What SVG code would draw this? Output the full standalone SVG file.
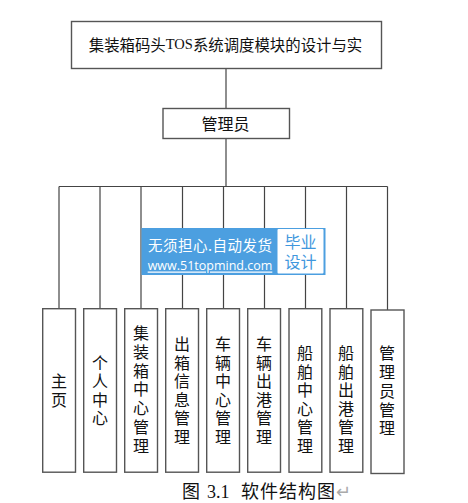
<svg xmlns="http://www.w3.org/2000/svg" width="468" height="503" viewBox="0 0 468 503">
<style>
.box{fill:#fff;stroke:#555;stroke-width:1.4}
.line{fill:none;stroke:#444;stroke-width:1.2}
.t{font-family:"Noto Sans CJK SC","Liberation Sans",sans-serif;font-size:16px;fill:#111;text-anchor:middle;dominant-baseline:central}
.wm{font-family:"Noto Sans CJK SC",sans-serif;text-anchor:middle;dominant-baseline:central}
.s{font-family:"Liberation Serif",serif}
</style>
<rect width="468" height="503" fill="#fff"/>
<g id="connectors">
<path class="line" d="M226 68V108M226 138V186.500M59 186.500H387.500M59 186.500V309M100 186.500V309M141 186.500V309M182.500 186.500V309M223.500 186.500V309M264.500 186.500V309M305.500 186.500V309M346.500 186.500V309M387.500 186.500V310"/>
</g>
<g id="root"><rect class="box" x="71.500" y="21.500" width="310" height="47"/><text class="t" x="225.500" y="44" style="font-size:15.400px">集装箱码头<tspan class="s" style="font-size:14.500px">TOS</tspan>系统调度模块的设计与实</text></g>
<g id="admin"><rect class="box" x="163" y="108.500" width="126.500" height="30"/><text class="t" x="225.500" y="122.500">管理员</text></g>
<g id="n1"><rect class="box" x="42.700" y="308.700" width="32.800" height="163.500"/><text class="t" x="59 59" y="380 399">主页</text></g>
<g id="n2"><rect class="box" x="83.700" y="308.700" width="32.800" height="163.500"/><text class="t" x="100 100 100 100" y="361.500 380 398.500 417">个人中心</text></g>
<g id="n3"><rect class="box" x="124.700" y="308.700" width="32.800" height="163.500"/><text class="t" x="141 141 141 141 141 141 141" y="332 350.500 369.500 388 407 426 445">集装箱中心管理</text></g>
<g id="n4"><rect class="box" x="165.700" y="308.700" width="32.800" height="163.500"/><text class="t" x="182 182 182 182 182 182" y="343 361.500 380 399 417 435.500">出箱信息管理</text></g>
<g id="n5"><rect class="box" x="206.700" y="308.700" width="32.800" height="163.500"/><text class="t" x="223 223 223 223 223 223" y="343 361.500 380 399 417 435.500">车辆中心管理</text></g>
<g id="n6"><rect class="box" x="247.700" y="308.700" width="32.800" height="163.500"/><text class="t" x="264 264 264 264 264 264" y="343 361.500 380 399 417 435.500">车辆出港管理</text></g>
<g id="n7"><rect class="box" x="289" y="308.700" width="32.800" height="163.500"/><text class="t" x="305 305 305 305 305 305" y="352 370.500 389 407.500 426 445">船舶中心管理</text></g>
<g id="n8"><rect class="box" x="330" y="308.700" width="32.800" height="163.500"/><text class="t" x="346 346 346 346 346 346" y="352 370.500 389 407.500 426 445">船舶出港管理</text></g>
<g id="n9"><rect class="box" x="371" y="310" width="33" height="163.500"/><text class="t" x="387 387 387 387 387" y="352 371 390 408.500 427">管理员管理</text></g>
<g id="watermark">
<rect x="141.500" y="228" width="184" height="47" fill="#4c9fe0"/>
<rect x="277.500" y="229" width="46" height="44.500" rx="1" fill="#fff"/>
<text class="wm" x="210" y="244" font-size="14.500px" fill="#fff" textLength="124">无须担心.自动发货</text>
<text x="210" y="265" font-family="Open Sans,Liberation Sans,sans-serif" font-size="12.500px" fill="#fff" text-anchor="middle" dominant-baseline="central" text-decoration="underline">www.51topmind.com</text>
<text class="wm" font-size="16px" fill="#3f97dd"><tspan x="300.500" y="240.500">毕业</tspan><tspan x="300.500" y="261">设计</tspan></text>
</g>
<g id="caption"><text x="182" y="498" font-family="Noto Sans CJK SC,sans-serif" font-size="18px" fill="#111">图<tspan class="s" x="207">3.1</tspan><tspan x="241" letter-spacing="1">软件结构图</tspan><tspan fill="#aaa">↵</tspan></text></g>
</svg>
